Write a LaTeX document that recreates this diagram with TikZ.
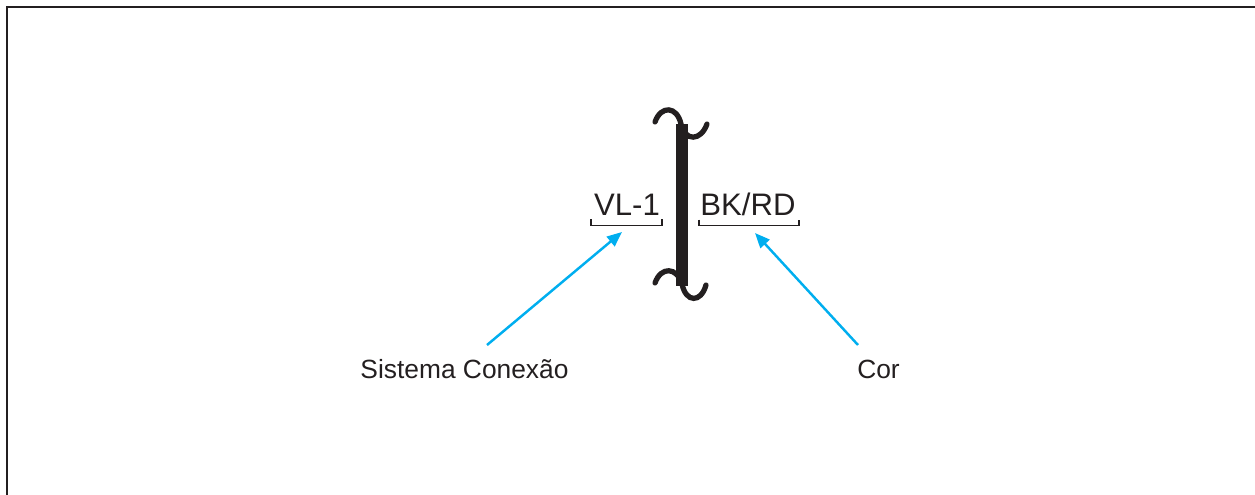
\documentclass[tikz,border=0pt]{standalone}
\usepackage{fontspec}
\setmainfont{Liberation Sans}
\usepackage{xcolor}
\usetikzlibrary{arrows.meta,positioning,calc}

\definecolor{inkblack}{RGB}{35,31,32}
\definecolor{pointcyan}{RGB}{0,174,239}

\begin{document}
\begin{tikzpicture}[x=0.02cm, y=-0.02cm,
    code/.style={inner sep=0pt, anchor=base, text=inkblack, font=\fontsize{17.7}{20}\selectfont},
    caption/.style={inner sep=0pt, anchor=base, text=inkblack, font=\fontsize{15}{18}\selectfont},
    underbrk/.style={draw=inkblack, line width=0.8pt},
    pointer/.style={draw=pointcyan, line width=1.4pt, -{Triangle[length=8.5pt,width=7pt]}},
    curl/.style={draw=inkblack, line width=3pt, line cap=round}]

    \useasboundingbox (0,0) rectangle (1255,494);

    % frame, only top and left edges visible
    \draw[inkblack, line width=1.4pt] (7,500) -- (7,7) -- (1262,7);

    % the brace between both codes
    \draw[inkblack, line width=6.6pt] (682,124) -- (682,286);
    \draw[curl] (655,122) .. controls (661,105) and (677,106) .. (681,124)
                          .. controls (685,142) and (701,141) .. (707,124);
    \draw[curl] (655,283) .. controls (661,266) and (677,267) .. (682,284)
                          .. controls (686,303) and (701,303) .. (706,285);

    % codes
    \node[code] (vl) at (627,215) {VL-1};
    \node[code] (bkrd) at (748,215) {BK/RD};

    \draw[underbrk] ($(vl.south west)+(-3,4)$) -- ++(0,6) -| ($(vl.south east)+(2,4)$);
    \draw[underbrk] ($(bkrd.south west)+(-1,4)$) -- ++(0,6) -| ($(bkrd.south east)+(3,4)$);

    % captions
    \node[caption] (sys) at (464.5,378) {Sistema Conexão};
    \node[caption] (cor) at (878.5,378) {Cor};

    \coordinate (systail) at (487,345);
    \coordinate (cortail) at (858,345);
    \coordinate (vltip) at (622,232);
    \coordinate (bktip) at (755,233);

    \draw[pointer] (systail) -- (vltip);
    \draw[pointer] (cortail) -- (bktip);

\end{tikzpicture}
\end{document}
